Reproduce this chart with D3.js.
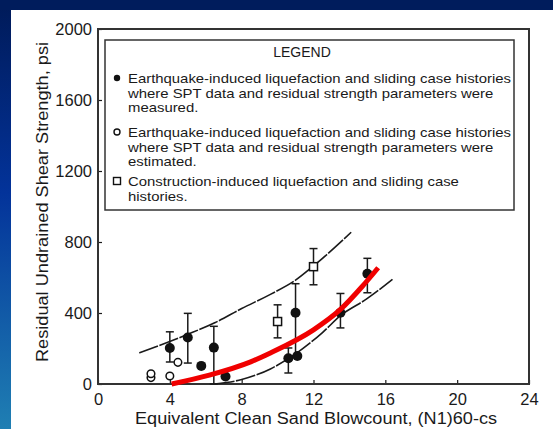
<!DOCTYPE html>
<html>
<head>
<meta charset="utf-8">
<script src="https://cdn.jsdelivr.net/npm/d3@7"></script>
<style>
  html, body { margin: 0; padding: 0; background: #001c5c; }
  svg { display: block; }
</style>
</head>
<body>
<svg id="chart" width="553" height="429"></svg>
<script>
// x ticks / y ticks
const xTicks = [0, 4, 8, 12, 16, 20, 24];
const yTicks = [0, 400, 800, 1200, 1600, 2000];

// [blowcount, strength, errLow, errHigh]
const measured = [
    [4.0, 203, 124, 294],
    [5.0, 262, 118, 398],
    [5.75, 102, null, null],
    [6.45, 205, 0, 325],
    [7.1, 42, null, null],
    [10.6, 145, 62, 203],
    [11.1, 158, null, null],
    [11.0, 401, 158, 565],
    [13.5, 401, 316, 510],
    [15.0, 621, 514, 708]
];
const estimated = [
    [2.95, 36],
    [2.95, 58],
    [4.0, 45],
    [4.45, 122]
];
const construction = [
    [10.0, 352, 260, 446],
    [12.0, 661, 559, 763]
];

const upperBound = [[2.3, 175], [5, 280], [6.5, 345], [8, 425], [9.6, 505], [11, 585], [12, 665], [14.1, 855]];
const lowerBound = [[6.5, 0], [8, 25], [9.6, 85], [11, 170], [12.5, 290], [13.5, 385], [15, 482], [16.4, 590]];
const redCurve = [[4.1, 0], [6.2, 50], [8.5, 125], [9.6, 175], [12, 305], [13.5, 420], [14.7, 548], [15.6, 655]];

const legendTitle = 'LEGEND';
const legendItems = [
    { symbol: 'filled', lines: ['Earthquake-induced liquefaction and sliding case histories', 'where SPT data and residual strength parameters were', 'measured.'] },
    { symbol: 'open', lines: ['Earthquake-induced liquefaction and sliding case histories', 'where SPT data and residual strength parameters were', 'estimated.'] },
    { symbol: 'square', lines: ['Construction-induced liquefaction and sliding case', 'histories.'] }
];

const xLabel = 'Equivalent Clean Sand Blowcount, (N1)60-cs';
const yLabel = 'Residual Undrained Shear Strength, psi';

const svg = d3.select('#chart');
const W = 553, H = 429;
const font = '"Liberation Sans", Arial, sans-serif';
const ink = '#1a1a1a';

// background
const defs = svg.append('defs');
const grad = defs.append('linearGradient').attr('id', 'bg').attr('x1', 0).attr('y1', 0).attr('x2', 0).attr('y2', 1);
grad.append('stop').attr('offset', '0%').attr('stop-color', '#001a58');
grad.append('stop').attr('offset', '45%').attr('stop-color', '#03339a');
grad.append('stop').attr('offset', '100%').attr('stop-color', '#1f7fb3');
svg.append('rect').attr('width', W).attr('height', H).attr('fill', 'url(#bg)');
svg.append('rect').attr('width', W).attr('height', 10).attr('fill', '#001c5c');
svg.append('rect').attr('x', 11).attr('y', 10).attr('width', W - 11).attr('height', H - 10).attr('fill', '#fff');

const x = d3.scaleLinear().domain([0, 24]).range([98, 529]);
const y = d3.scaleLinear().domain([0, 2000]).range([384, 29]);

// axes
const gx = svg.append('g').attr('transform', `translate(0,${y(0)})`)
    .call(d3.axisBottom(x).tickValues(xTicks).tickFormat(d3.format('d')).tickSizeInner(-4).tickSizeOuter(0).tickPadding(9));
const gy = svg.append('g').attr('transform', `translate(${x(0)},0)`)
    .call(d3.axisLeft(y).tickValues(yTicks).tickFormat(d3.format('d')).tickSizeInner(-4).tickSizeOuter(0).tickPadding(6));
[gx, gy].forEach(g => {
    g.select('.domain').remove();
    g.selectAll('line').attr('stroke', ink).attr('stroke-width', 1.2);
    g.selectAll('text').attr('fill', ink).style('font-family', font).style('font-size', '16.5px');
});

// frame
svg.append('path')
    .attr('d', `M${x(0)},${y(2000)}H${x(24)}V${y(0)}H${x(0)}Z`)
    .attr('fill', 'none').attr('stroke', '#333').attr('stroke-width', 2);

// legend box
svg.append('rect')
    .attr('x', 105).attr('y', 40).attr('width', 409).attr('height', 170)
    .attr('fill', '#fff').attr('stroke', '#333').attr('stroke-width', 1.5);
svg.append('text').text(legendTitle)
    .attr('x', 302).attr('y', 57).attr('text-anchor', 'middle')
    .attr('fill', ink).style('font-family', font).style('font-size', '14px');

const legendTop = [83, 137, 186];
const lineGap = 14.5;
const legendG = svg.append('g');
const textX = 128;
legendItems.forEach((item, i) => {
    item.lines.forEach((ln, j) => {
        legendG.append('text').attr('class', 'lg').text(ln)
            .attr('x', textX).attr('y', legendTop[i] + j * lineGap)
            .attr('fill', ink).style('font-family', font).style('font-size', '13px');
    });
    const my = legendTop[i] - 5;
    if (item.symbol === 'filled') {
        legendG.append('circle').attr('cx', 117).attr('cy', my).attr('r', 3.2).attr('fill', '#111');
    } else if (item.symbol === 'open') {
        legendG.append('circle').attr('cx', 117).attr('cy', my).attr('r', 3).attr('fill', '#fff').attr('stroke', '#111').attr('stroke-width', 1.4);
    } else {
        legendG.append('rect').attr('x', 113.5).attr('y', my - 3.5).attr('width', 7).attr('height', 7).attr('fill', '#fff').attr('stroke', '#111').attr('stroke-width', 1.4);
    }
});
// fit legend text width to the box
const nodes = legendG.selectAll('text.lg').nodes();
const scaleFit = 383 / nodes[0].getComputedTextLength();
nodes.forEach(n => {
    const len = n.getComputedTextLength();
    d3.select(n).attr('textLength', len * scaleFit).attr('lengthAdjust', 'spacingAndGlyphs');
});

// axis titles
svg.append('text').text(xLabel)
    .attr('x', 316).attr('y', 424).attr('text-anchor', 'middle')
    .attr('textLength', 362).attr('lengthAdjust', 'spacingAndGlyphs')
    .attr('fill', ink).style('font-family', font).style('font-size', '16px');
svg.append('text').text(yLabel)
    .attr('transform', `translate(48,${202}) rotate(-90)`)
    .attr('text-anchor', 'middle')
    .attr('textLength', 320).attr('lengthAdjust', 'spacingAndGlyphs')
    .attr('fill', ink).style('font-family', font).style('font-size', '16px');

// bounding curves
const line = d3.line().x(d => x(d[0])).y(d => y(d[1])).curve(d3.curveMonotoneX);
[upperBound, lowerBound].forEach(c => {
    svg.append('path').attr('d', line(c))
        .attr('fill', 'none').attr('stroke', ink).attr('stroke-width', 1.6)
        .attr('stroke-dasharray', '20,1.5');
});

// error bars
const bars = measured.concat(construction).filter(d => d[2] !== null && d[2] !== undefined);
const eb = svg.append('g').attr('stroke', ink).attr('stroke-width', 1.5);
bars.forEach(d => {
    const cx = x(d[0]);
    eb.append('line').attr('x1', cx).attr('x2', cx).attr('y1', y(d[2])).attr('y2', y(d[3]));
    [d[2], d[3]].forEach(v => {
        eb.append('line').attr('x1', cx - 4).attr('x2', cx + 4).attr('y1', y(v)).attr('y2', y(v));
    });
});

// points
svg.append('g').selectAll('circle').data(measured).enter().append('circle')
    .attr('cx', d => x(d[0])).attr('cy', d => y(d[1])).attr('r', 5).attr('fill', '#111');
svg.append('g').selectAll('circle').data(estimated).enter().append('circle')
    .attr('cx', d => x(d[0])).attr('cy', d => y(d[1])).attr('r', 3.8)
    .attr('fill', '#fff').attr('stroke', '#111').attr('stroke-width', 1.5);
svg.append('g').selectAll('rect').data(construction).enter().append('rect')
    .attr('x', d => x(d[0]) - 4).attr('y', d => y(d[1]) - 4).attr('width', 8).attr('height', 8)
    .attr('fill', '#fff').attr('stroke', '#111').attr('stroke-width', 1.5);

// red curve
svg.append('path').attr('d', line(redCurve))
    .attr('fill', 'none').attr('stroke', '#f00000').attr('stroke-width', 5);
</script>
</body>
</html>
